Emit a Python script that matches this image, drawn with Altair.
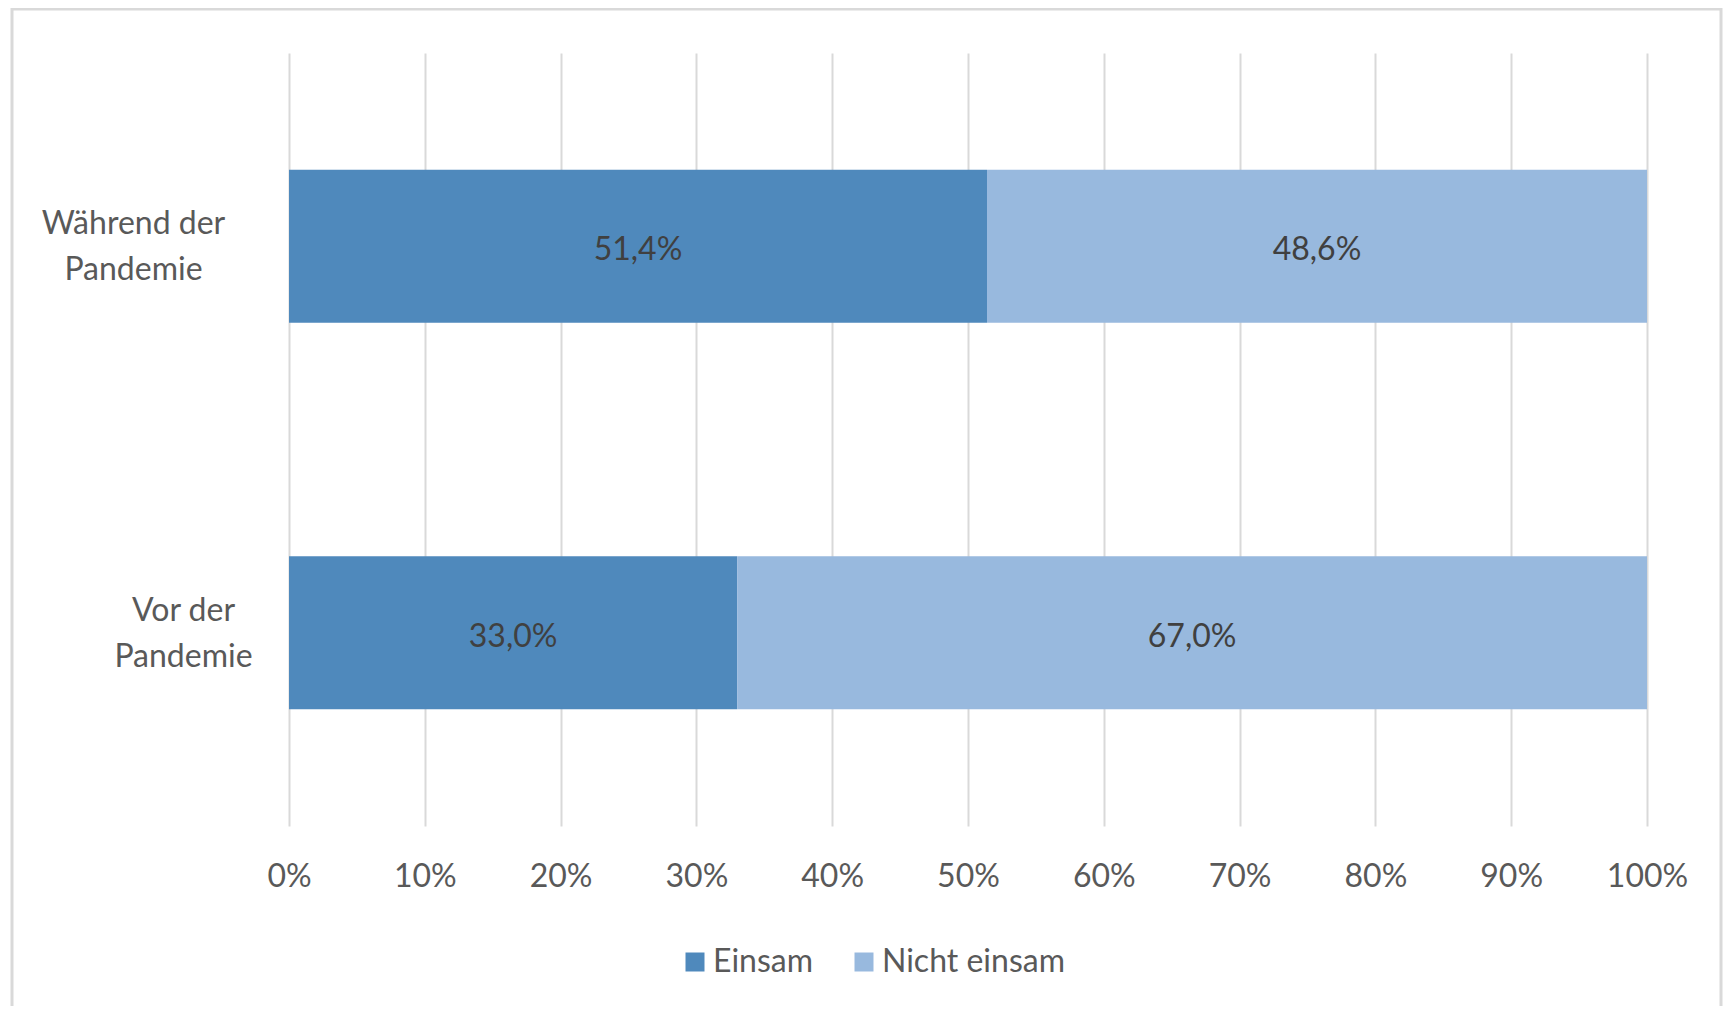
import altair as alt
import pandas as pd

categories = ["Während der Pandemie", "Vor der Pandemie"]
series = ["Einsam", "Nicht einsam"]
einsam = [51.4, 33.0]
nicht_einsam = [48.6, 67.0]
x_ticks = [0, 10, 20, 30, 40, 50, 60, 70, 80, 90, 100]
colors = ["#4f89bc", "#98b9de"]

rows = []
for i, c in enumerate(categories):
    rows.append({"cat": c, "series": series[0], "order": 0, "value": einsam[i]})
    rows.append({"cat": c, "series": series[1], "order": 1, "value": nicht_einsam[i]})
df = pd.DataFrame(rows)

FONT = "Lato"
LABEL_COLOR = "#595959"

base = alt.Chart(df).transform_stack(
    stack="value", groupby=["cat"], sort=[alt.SortField("order")], as_=["x0", "x1"]
).transform_calculate(
    mid="(datum.x0 + datum.x1) / 2",
    lbl="replace(format(datum.value, '.1f'), '.', ',') + '%'",
)

y_enc = alt.Y(
    "cat:N",
    sort=categories,
    scale=alt.Scale(paddingInner=0.604, paddingOuter=0.302),
    axis=alt.Axis(
        title=None, ticks=False, domain=False, grid=False,
        labelAlign="center", labelBaseline="middle", labelOffset=-22, labelLimit=400,
        labelPadding={"condition": {"test": "datum.value == 'Vor der Pandemie'", "value": 106}, "value": 156},
        labelExpr="[replace(datum.label, ' Pandemie', ''), 'Pandemie']",
        labelLineHeight=46, labelFont=FONT, labelFontSize=32, labelColor=LABEL_COLOR,
    ),
)

bars = base.mark_bar().encode(
    x=alt.X(
        "x0:Q",
        scale=alt.Scale(domain=[0, 100]),
        axis=alt.Axis(
            values=x_ticks, labelExpr="datum.value + '%'", title=None,
            grid=True, gridColor="#d9d9d9", gridWidth=2, ticks=False, domain=False,
            labelFont=FONT, labelFontSize=32, labelColor=LABEL_COLOR,
            labelPadding=50, labelBaseline="middle", labelFlush=False,
        ),
    ),
    x2="x1:Q",
    y=y_enc,
    color=alt.Color(
        "series:N",
        scale=alt.Scale(domain=series, range=colors),
        legend=alt.Legend(
            orient="none", legendX=390, legendY=893, direction="horizontal",
            title=None, symbolType="square", symbolSize=361, symbolStrokeWidth=0,
            symbolOpacity=1, labelFont=FONT, labelFontSize=32, labelColor=LABEL_COLOR,
            labelOffset=2, columnPadding=34, padding=0, labelLimit=400,
        ),
    ),
)

text = base.mark_text(font=FONT, fontSize=32, color="#404040", baseline="middle", dy=4).encode(
    x="mid:Q",
    y=alt.Y("cat:N", sort=categories),
    text="lbl:N",
)

frame = alt.Chart(pd.DataFrame({"a": [0]})).mark_rect(
    fillOpacity=0, stroke="#d9d9d9", strokeWidth=3
).encode(
    x=alt.value(-277), x2=alt.value(1432), y=alt.value(-44), y2=alt.value(1100)
)

chart = alt.layer(frame, bars, text).properties(
    width=1358,
    height=773,
    autosize=alt.AutoSizeParams(type="none"),
    padding={"left": 281, "top": 45, "right": 76, "bottom": 180},
    background="white",
).configure_view(stroke=None)

chart.save("out.html", embed_options={"renderer": "svg", "actions": False})
